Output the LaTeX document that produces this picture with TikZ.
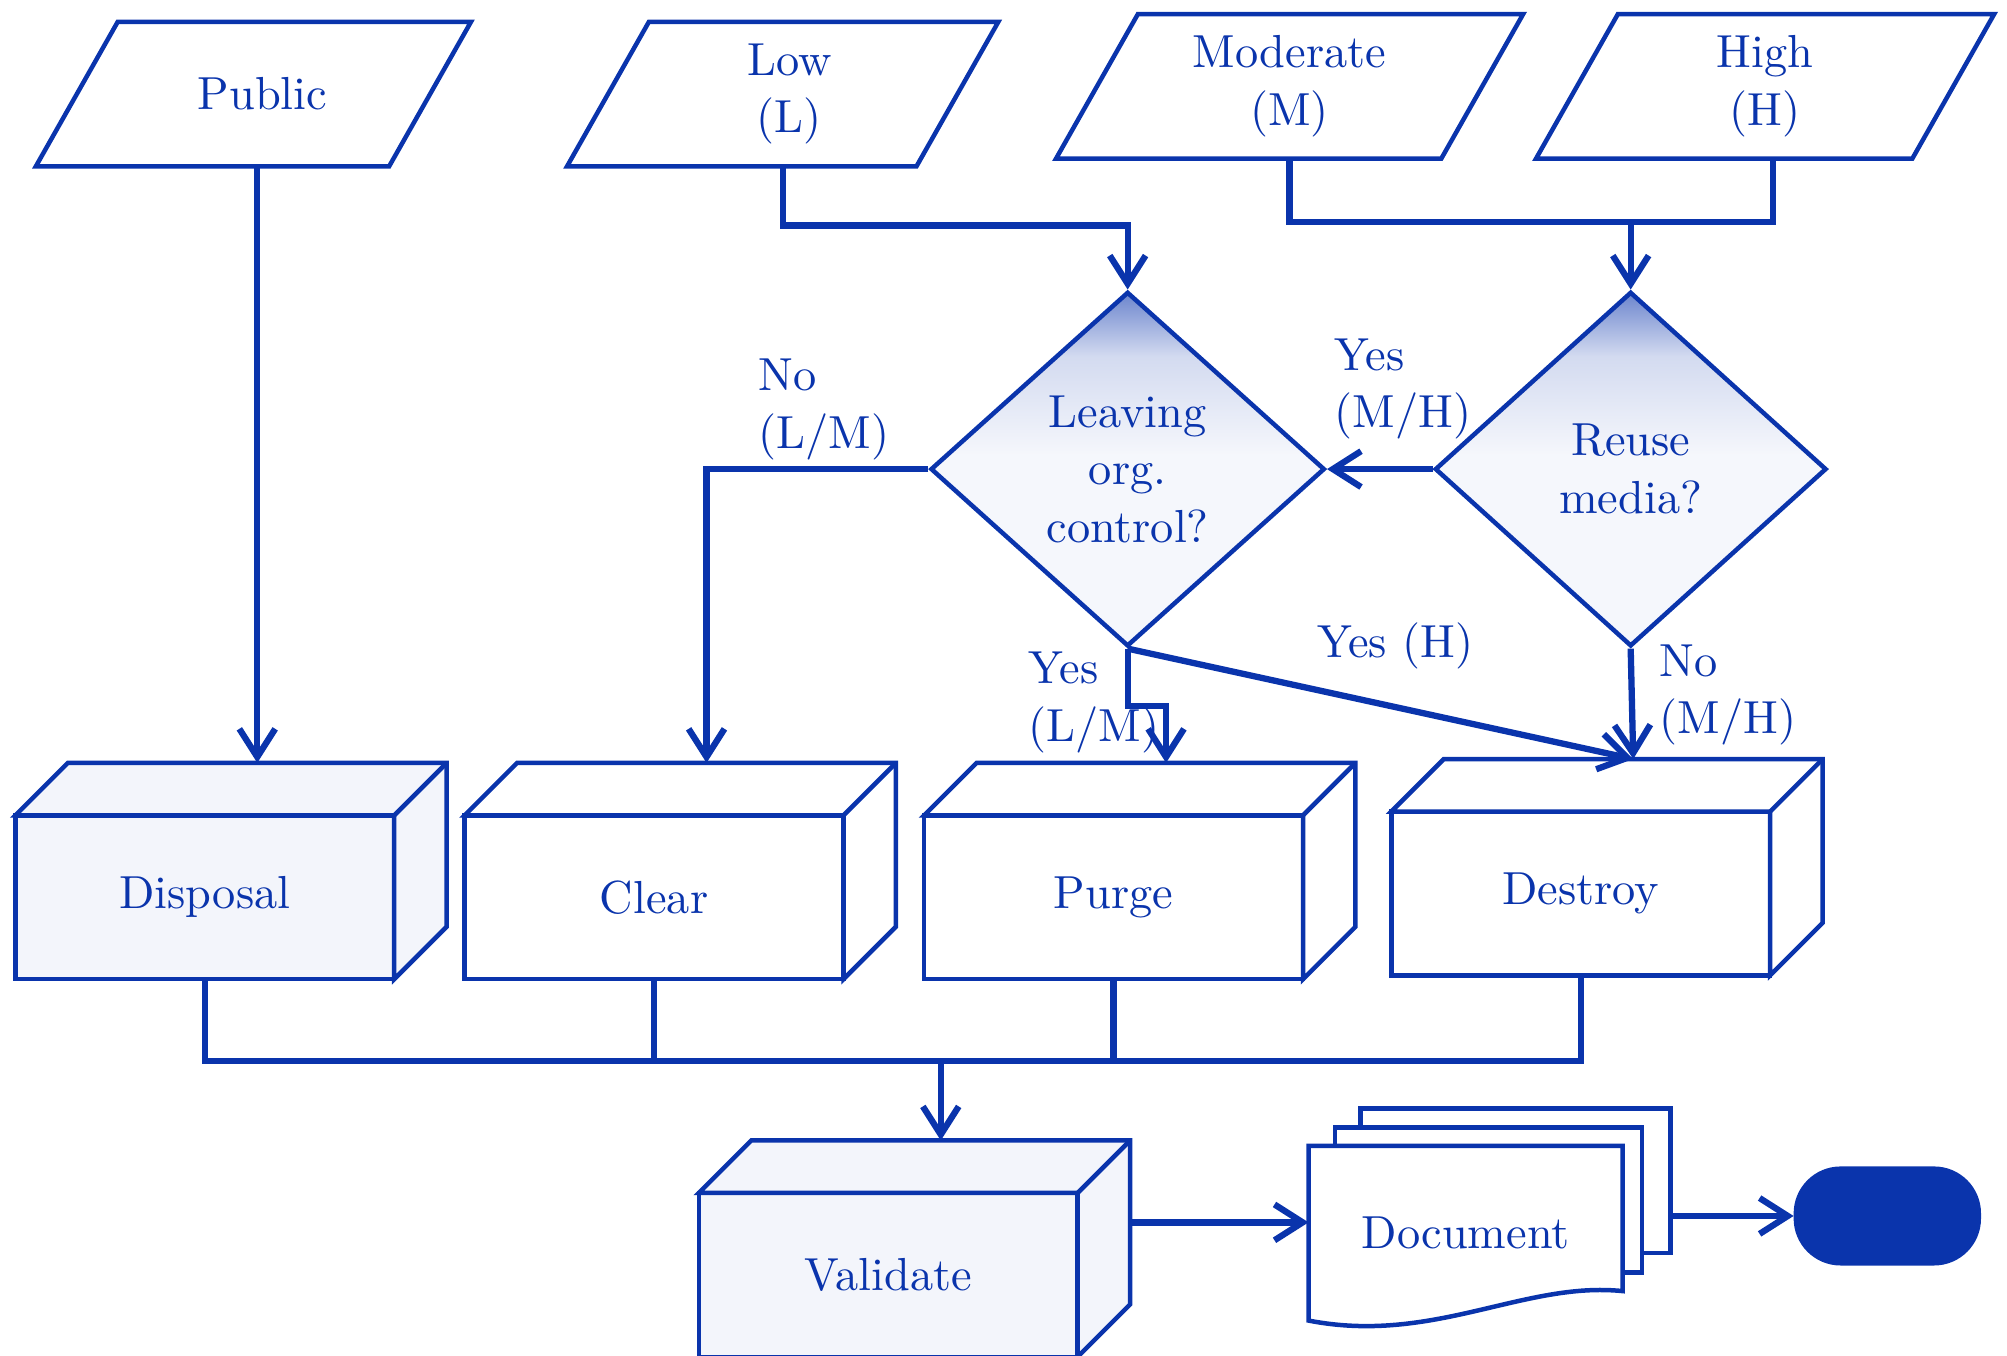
\documentclass[tikz,border=0pt]{standalone}
\usepackage{fontspec}
\usetikzlibrary{arrows.meta,positioning,calc,shapes.geometric}

\definecolor{ink}{RGB}{10,52,172}

% darker towards the upper tip of a decision
\pgfdeclareverticalshading{askshade}{100bp}{color(0bp)=(ink!4); color(52bp)=(ink!4); color(66bp)=(ink!18); color(75bp)=(ink!60); color(100bp)=(ink!60)}

% slanted outline round a level node
\newcommand{\levelframe}[1]{%
  \draw[face] (#1.south west) -- ($(#1.south east)+(-64,0)$) -- (#1.north east) -- ($(#1.north west)+(64,0)$) -- cycle;
}

% top and right faces of a process block, plus the points arrows meet
\newcommand{\cubefaces}[2][white]{%
  \filldraw[face, fill=#1] (#2.north west) -- ++(41,-41) -| ($(#2.south east)+(41,-41)$) -- (#2.south east) -- (#2.north east) -- cycle;
  \draw[face] (#2.north east) -- ++(41,-41);
  \coordinate (#2 top) at ($(#2.north)+(41,-41)$);
  \coordinate (#2 side) at ($(#2.east)+(41,-41)$);
}

\begin{document}
\begin{tikzpicture}[
  x=0.1mm, y=-0.1mm,
  every node/.style={font=\fontsize{10.3}{12.8}\selectfont, text=ink},
  level/.style={rectangle, minimum height=1.13cm, align=center, inner sep=0pt, outer sep=0pt},
  ask/.style={draw=ink, line width=1pt, diamond, minimum width=3.08cm, minimum height=2.77cm, align=center, inner sep=0pt,
    path picture={\shade[shading=askshade] (path picture bounding box.south west) rectangle (path picture bounding box.north east);}},
  proc/.style={draw=ink, line width=1pt, rectangle, minimum width=2.96cm, minimum height=1.28cm, outer sep=0pt, fill=white},
  face/.style={draw=ink, line width=1pt, line join=miter},
  line/.style={draw=ink, line width=1.4pt},
  arr/.style={line, -{Straight Barb[length=2.2mm, width=2.8mm]}},
  lbl/.style={align=left, inner sep=0pt},
  page/.style={draw=ink, line width=1pt, fill=white, minimum width=2.42cm, minimum height=1.13cm, outer sep=0pt},
  term/.style={draw=ink, fill=ink, rounded corners=3.6mm, minimum width=1.45cm, minimum height=0.76cm}
]
\useasboundingbox (0,0) rectangle (1568,1059);

% classification levels
\node[level, minimum width=3.40cm] (pub) at (198,73.5) {\hspace{4pt}Public};
\node[level, minimum width=3.37cm] (low) at (611.5,73.5) {\hspace{3pt}Low\\\hspace{3pt}(L)};
\node[level, minimum width=3.65cm] (mod) at (1007.5,67.5) {Moderate\\(M)};
\node[level, minimum width=3.58cm] (high) at (1379,67.5) {High\\(H)};
\levelframe{pub}
\levelframe{low}
\levelframe{mod}
\levelframe{high}

% decisions
\node[ask] (leave) at (881,366.5) {Leaving\\org.\\control?};
\node[ask, minimum width=3.06cm] (reuse) at (1274,366.5) {Reuse\\media?};

% sanitization blocks
\node[proc, fill=ink!5] (disp) at (160,701) {Disposal};
\node[proc, right=5.5mm of disp] (clear) {Clear};
\node[proc, right=6.3mm of clear] (purge) {Purge};
\node[proc, right=6.9mm of purge, yshift=0.3mm] (dest) {Destroy};
\node[proc, fill=ink!5] (val) at (694,996) {Validate};
\cubefaces[ink!5]{disp}
\cubefaces{clear}
\cubefaces{purge}
\cubefaces{dest}
\cubefaces[ink!5]{val}

% document stack and end point
\node[page] (doc3) at (1184,922.5) {};
\node[page, minimum width=2.40cm] (doc2) at (1163,937.5) {};
\node[fill=white, minimum width=2.44cm, minimum height=1.35cm, inner sep=0pt] (doc) at (1145,963.5) {Document};
\draw[face] (doc.north west) -- (doc.north east) -- ($(doc.south east)+(0,-23)$)
  .. controls ($(doc.south east)+(-77,-31)$) and ($(doc.south west)+(97,19)$) .. (doc.south west) -- cycle;
\node[term] (term) at (1474.5,950) {};

% flow
\draw[arr] (disp top |- pub.south) -- (disp top);
\draw[arr] (low.center |- low.south) |- ($(leave.north)+(0,-50)$) -- (leave.north);
\coordinate (jmh) at ($(reuse.north)+(0,-53)$);
\draw[line] (mod.center |- mod.south) |- (jmh) -| ($(high.south)+(6,0)$);
\draw[arr] (jmh) -- (reuse.north);
\draw[arr] (reuse.west) -- (leave.east);
\draw[arr] (leave.west) -| (clear top);
\draw[arr] (leave.south) -- ++(0,45) -| (purge top);
\draw[arr] (leave.south) -- (dest top);
\draw[arr] (reuse.south) -- (dest top);

\coordinate (bus) at ($(val top)+(0,-62)$);
\draw[line] (disp.south) |- (dest.south |- bus) -- (dest.south);
\draw[line] (clear.south) -- (clear.south |- bus);
\draw[line] (purge.south) -- (purge.south |- bus);
\draw[arr] (bus) -- (val top);
\draw[arr] (val side) -- (val side -| doc.west);
\draw[arr] (doc3.east |- term.west) -- (term.west);

% branch labels
\node[lbl, anchor=west] (nolm) at (592,320) {No\\(L/M)};
\node[lbl, anchor=west] (yesmh) at (1042,304) {Yes\\(M/H)};
\node[lbl, anchor=west] (yeslm) at (803,549) {Yes\\(L/M)};
\node[lbl] (yesh) at (1090,505) {Yes (H)};
\node[lbl, anchor=west] (nomh) at (1296,543) {No\\(M/H)};

\end{tikzpicture}
\end{document}
